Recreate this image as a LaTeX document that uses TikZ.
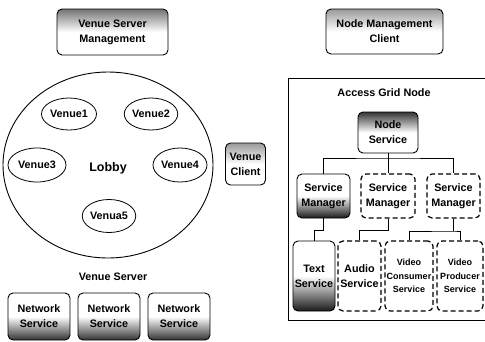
\documentclass[tikz,border=0pt]{standalone}
\usepackage{fontspec}
\setmainfont{Liberation Sans}
\usetikzlibrary{shapes.geometric}
\begin{document}
\begin{tikzpicture}[x=1pt,y=-1pt,
 lbl/.style={font=\bfseries\fontsize{10.8}{15}\selectfont, align=center},
 small/.style={font=\bfseries\fontsize{9}{13.5}\selectfont, align=center},
 box/.style={lbl, draw, line width=0.9pt, rounded corners=5pt, inner sep=0pt},
 dbox/.style={box, dash pattern=on 5pt off 3pt, line width=1.2pt},
 venue/.style={lbl, draw, ellipse, line width=0.8pt, inner sep=0pt},
 darktop/.style={top color=#1, bottom color=white, middle color=white},
 darkbot/.style={top color=white, bottom color=#1, middle color=white},
 wire/.style={line width=0.8pt}]
\useasboundingbox (0,0) rectangle (485,341);

% left side
\node[box, darktop=black!55, minimum width=111, minimum height=46] (vsm) at (112.5,32) {Venue Server\\Management};
\node[draw, ellipse, line width=0.9pt, inner sep=0pt, minimum width=210, minimum height=186] (lobby) at (108,165) {};
\node[font=\bfseries\fontsize{12.5}{14}\selectfont] (lobbylbl) at (108,168) {Lobby};
\node[venue, minimum width=55, minimum height=32] (v1) at (69,114) {Venue1};
\node[venue, minimum width=53, minimum height=32] (v2) at (151,114) {Venue2};
\node[venue, minimum width=58, minimum height=34] (v3) at (37,165) {Venue3};
\node[venue, minimum width=54, minimum height=34] (v4) at (180,165) {Venue4};
\node[venue, minimum width=52, minimum height=33] (v5) at (109,216) {Venua5};
\node[lbl] (vslbl) at (113,277) {Venue Server};
\node[box, darkbot=black!80, minimum width=62, minimum height=47] (ns1) at (39,316.5) {Network\\Service};
\node[box, darkbot=black!80, minimum width=62, minimum height=47] (ns2) at (109,316.5) {Network\\Service};
\node[box, darkbot=black!80, minimum width=62, minimum height=47] (ns3) at (179,316.5) {Network\\Service};
\node[box, darktop=black!40, minimum width=40, minimum height=42] (vc) at (245.5,164) {Venue\\Client};

% right side
\node[box, darktop=black!40, minimum width=117, minimum height=45] (nmc) at (384.5,31.5) {Node Management\\Client};
\node[draw, line width=0.8pt, inner sep=0pt, minimum width=200, minimum height=242] (agn) at (388,199) {};
\node[lbl] (agnlbl) at (384,93) {Access Grid Node};
\node[box, darktop=black!80, minimum width=60, minimum height=41] (ns) at (388,132.5) {Node\\Service};
\node[box, darkbot=black!90, minimum width=53, minimum height=44] (sm1) at (323.5,196) {Service\\Manager};
\node[dbox, minimum width=54, minimum height=44] (sm2) at (388,196) {Service\\Manager};
\node[dbox, minimum width=53, minimum height=44] (sm3) at (453.5,196) {Service\\Manager};
\node[box, darkbot=black!90, minimum width=42, minimum height=70] (txt) at (314,276) {Text\\Service};
\node[dbox, minimum width=43, minimum height=70] (aud) at (359.5,276) {Audio\\Service};
\node[dbox, small, minimum width=48, minimum height=70] (vcs) at (409,276) {Video\\Consumer\\Service};
\node[dbox, small, minimum width=46, minimum height=70] (vps) at (460,276) {Video\\Producer\\Service};

% connectors
\coordinate (b0) at (388,158);
\coordinate (b1) at (323.5,230);
\coordinate (b2) at (388,230);
\coordinate (b3) at (453.5,231);
\draw[wire] (ns.south) -- (sm2.north);
\draw[wire] (sm1.north) |- (b0) -| (sm3.north);
\draw[wire] (sm1.south) -- (b1) -| (txt.north);
\draw[wire] (sm2.south) -- (b2) -| (aud.north);
\draw[wire] (sm3.south) -- (b3);
\draw[wire] (vcs.north) |- (b3) -| (vps.north);
\end{tikzpicture}
\end{document}
